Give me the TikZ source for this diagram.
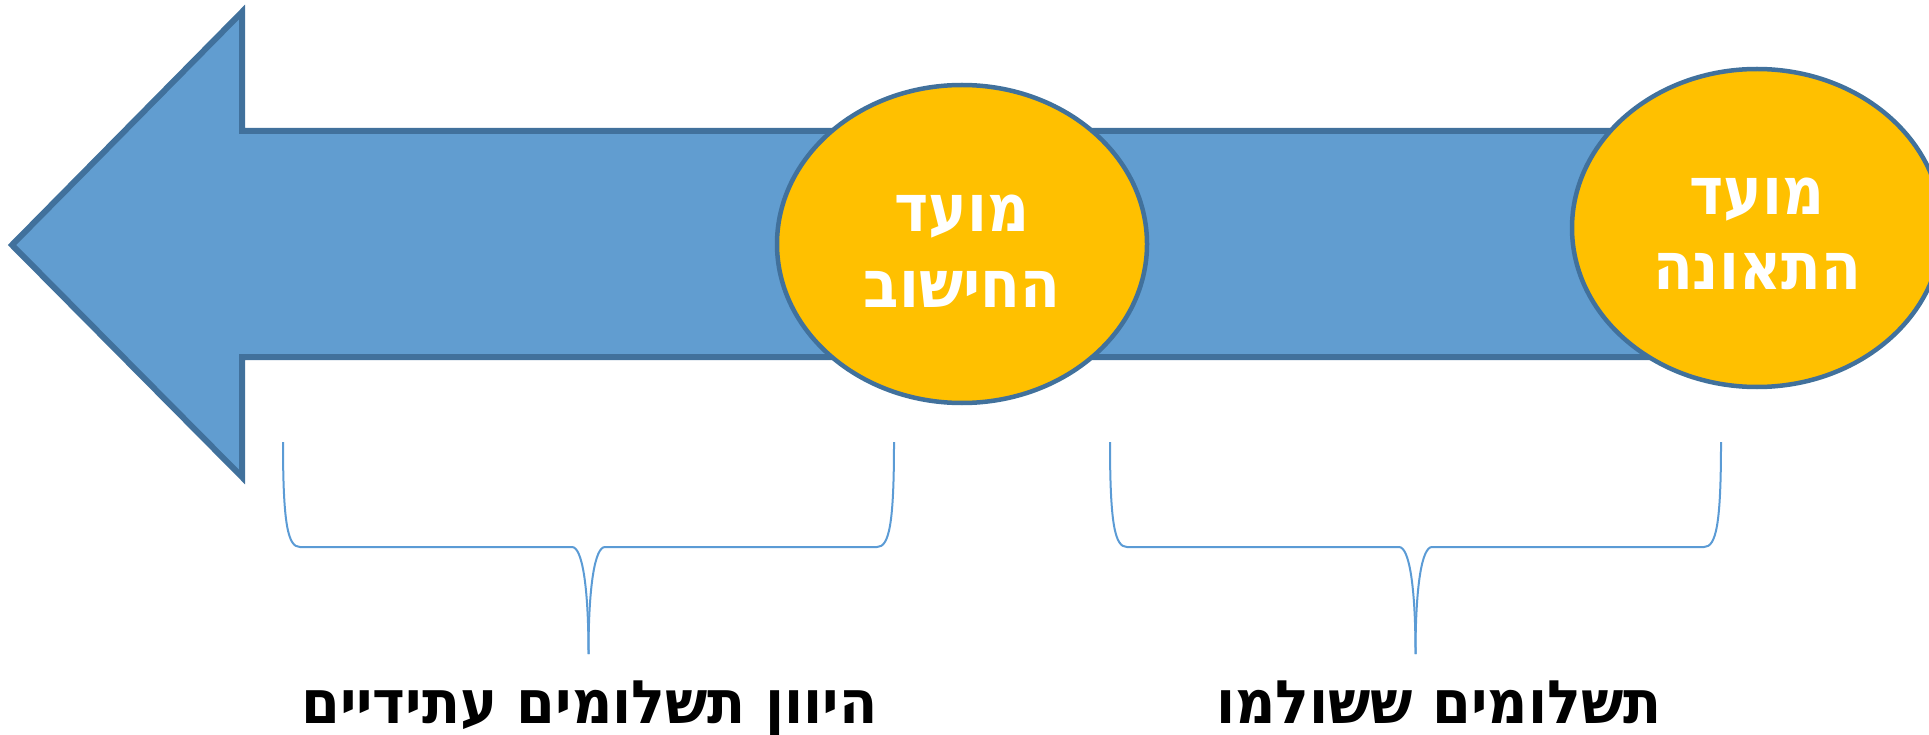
\documentclass[tikz,border=0pt]{standalone}
\usepackage{fontspec}
\setmainfont{DejaVu Sans}
\newfontfamily\hebwhite[Script=Hebrew,FakeStretch=0.88,BoldFont={DejaVu Sans Bold},BoldFeatures={FakeStretch=0.88}]{DejaVu Sans}
\newfontfamily\hebblack[Script=Hebrew,FakeStretch=0.93,BoldFont={DejaVu Sans Bold},BoldFeatures={FakeStretch=0.93}]{DejaVu Sans}
\TeXXeTstate=1
\definecolor{arrowfill}{RGB}{97,157,208}
\definecolor{outlineblue}{RGB}{65,113,156}
\definecolor{goldfill}{RGB}{255,192,0}
\definecolor{bracecol}{RGB}{91,155,213}
\tikzset{
  bigarrow/.style={fill=arrowfill,draw=outlineblue,line width=6pt,line join=miter},
  dateell/.style={ellipse,fill=goldfill,draw=outlineblue,line width=4.5pt,inner sep=0pt,minimum width=370pt,minimum height=318pt},
  wtext/.style={anchor=base,text=white,font=\hebwhite\bfseries\fontsize{66}{75}\selectfont,inner sep=0pt},
  btext/.style={anchor=base,text=black,font=\hebblack\bfseries\fontsize{60}{66}\selectfont,inner sep=0pt},
  bracestyle/.style={draw=bracecol,line width=2pt}
}
\usetikzlibrary{shapes.geometric,calc}
\begin{document}
\begin{tikzpicture}[x=1pt,y=-1pt]
\useasboundingbox (0,0) rectangle (1929,735);
\clip (0,0) rectangle (1929,735);
% big arrow pointing left
\draw[bigarrow] (12,245) -- (242,12) -- (242,131) -- (1757,131) -- (1757,357) -- (242,357) -- (242,477) -- cycle;
% ellipses
\node[dateell] (calc) at (962,244) {};
\node[dateell] (acc) at (1757,228) {};
\node[wtext] (calc1) at ($(calc.center)+(0,-12)$) {\beginR מועד\endR};
\node[wtext] (calc2) at ($(calc.center)+(0,63)$) {\beginR החישוב\endR};
\node[wtext] (acc1) at ($(acc.center)+(0,-13)$) {\beginR מועד\endR};
\node[wtext] (acc2) at ($(acc.center)+(0,62)$) {\beginR התאונה\endR};
% braces
\coordinate (b1l) at (283,442);
\coordinate (b1r) at (894,442);
\coordinate (b1t) at (588.5,654);
\draw[bracestyle] (b1l) .. controls (283,525) and (288,547) .. (300,547) -- (572,547)
   .. controls (582,547) and (588.5,585) .. (b1t);
\draw[bracestyle] (b1r) .. controls (894,525) and (889,547) .. (877,547) -- (605,547)
   .. controls (595,547) and (588.5,585) .. (b1t);
\coordinate (b2l) at (1110,442);
\coordinate (b2r) at (1721,442);
\coordinate (b2t) at (1415.5,654);
\draw[bracestyle] (b2l) .. controls (1110,525) and (1115,547) .. (1127,547) -- (1399,547)
   .. controls (1409,547) and (1415.5,585) .. (b2t);
\draw[bracestyle] (b2r) .. controls (1721,525) and (1716,547) .. (1704,547) -- (1432,547)
   .. controls (1422,547) and (1415.5,585) .. (b2t);
% labels
\node[btext] (lab1) at (589.5,723) {\beginR היוון תשלומים עתידיים\endR};
\node[btext] (lab2) at (1439,723) {\beginR תשלומים ששולמו\endR};
\end{tikzpicture}
\end{document}
